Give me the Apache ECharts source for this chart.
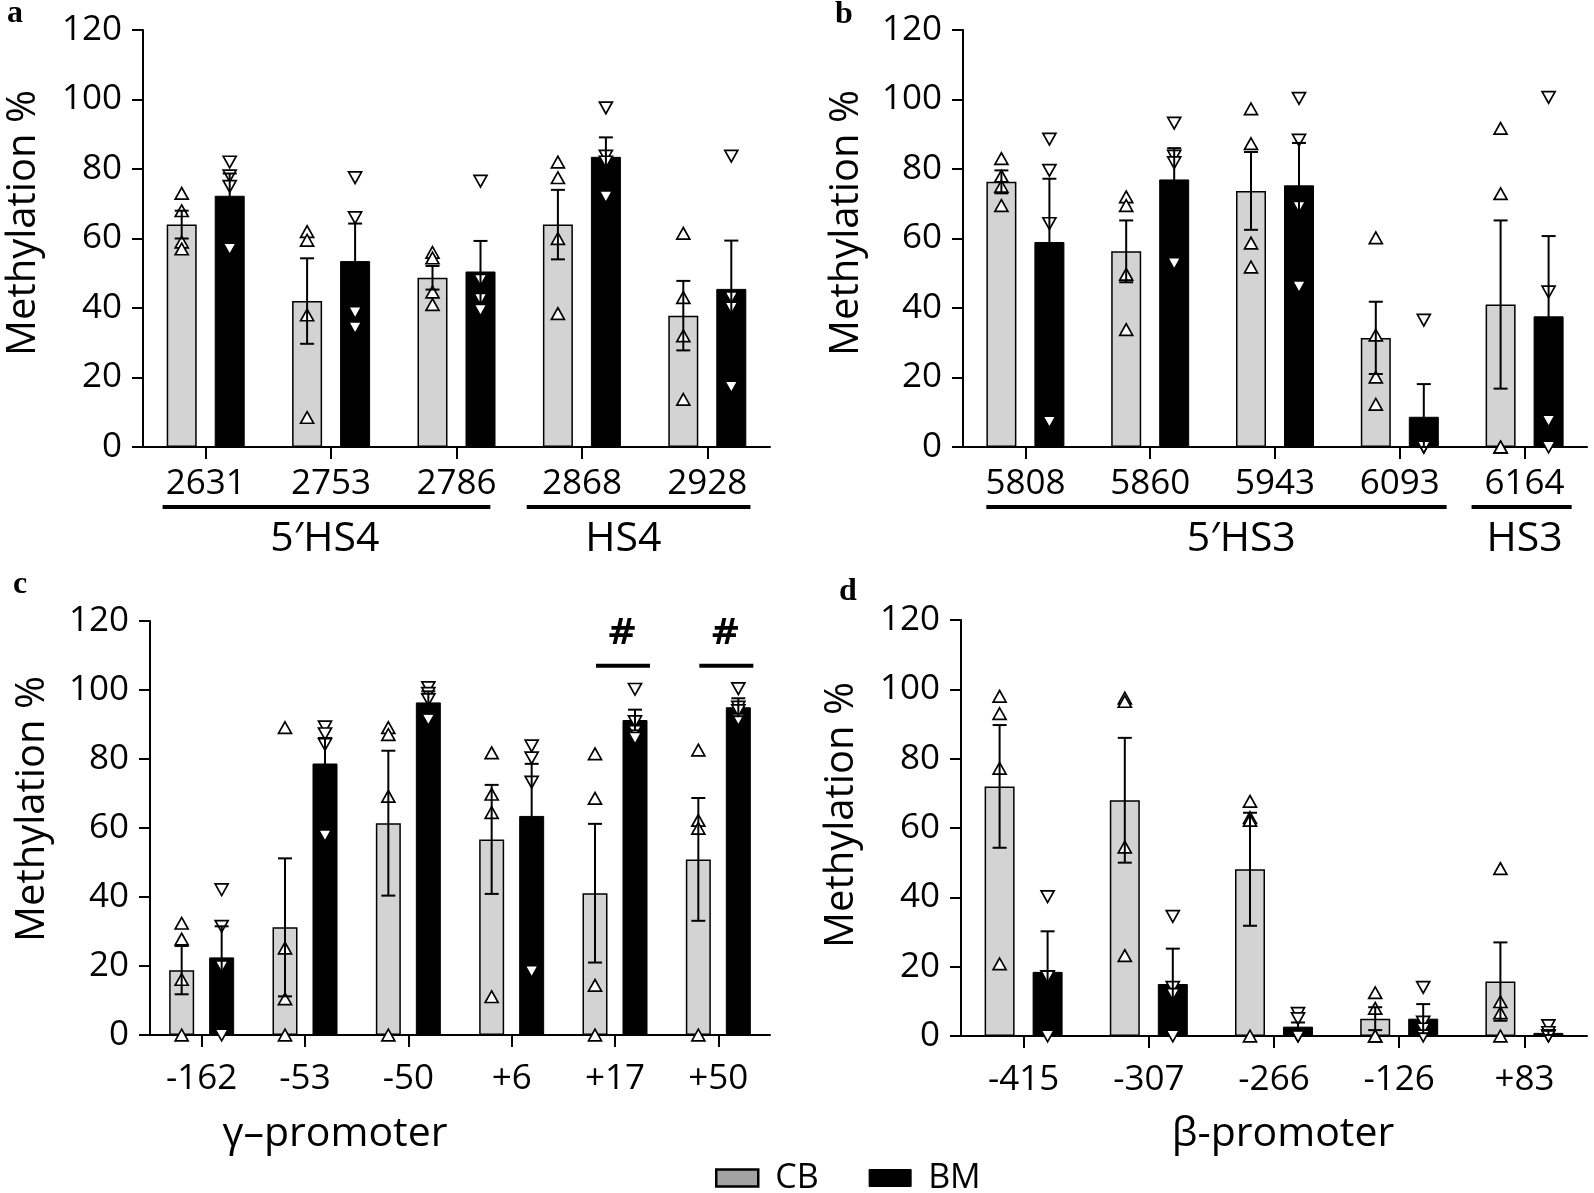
<!DOCTYPE html>
<html><head><meta charset="utf-8">
<script src="https://cdn.jsdelivr.net/npm/echarts@6/dist/echarts.min.js"></script>
<style>html,body{margin:0;padding:0;background:#fff}#c{width:1594px;height:1193px}</style>
</head><body><div id="c"></div>
<script>
// ---------- data ----------
const yTicks = [0, 20, 40, 60, 80, 100, 120];

const catsA = ['2631', '2753', '2786', '2868', '2928'];
const cbA = [64, 42, 48.7, 64, 37.8];
const bmA = [72.3, 53.5, 50.5, 83.5, 45.5];
const cbErrA = [4, 12.3, 3.4, 10, 10];
const bmErrA = [6.4, 10.8, 8.8, 5.6, 13.9];
const cbPtsA = [[73, 68, 59, 57], [62, 59.5, 38, 8.5], [56, 54.4, 44.6, 41], [82, 77.5, 60, 38.4], [61.5, 43, 32, 13.7]];
const bmPtsA = [[82, 78, 75, 57], [77.5, 66, 38.7, 34.3], [76.5, 48, 42.5, 39.4], [97.6, 83.7, 82, 72], [83.7, 43, 40, 17.3]];
const groupNamesA = ['5\u2032HS4', 'HS4'];
const groupSpanA = [[-0.344, 2.27, 0.95], [2.56, 4.344, 3.33]]; // [from, to, label] in category units

const catsB = ['5808', '5860', '5943', '6093', '6164'];
const cbB = [76.3, 56.3, 73.7, 31.4, 41];
const bmB = [59, 77, 75.3, 8.7, 37.6];
const cbErrB = [3.3, 8.9, 11.2, 10.4, 24.2];
const bmErrB = [18.2, 9, 12.2, 9.4, 23.1];
const cbPtsB = [[83, 78, 75, 69.5], [72, 69.5, 49.7, 33.8], [97.3, 87.3, 58.7, 51.8], [60.2, 32.2, 20.1, 12.3], [91.7, 72.9, 0, 0]];
const bmPtsB = [[88.6, 79.6, 64.3, 7.2], [93.2, 83.7, 81.8, 52.8], [100.3, 88.3, 69, 46.1], [36.5, 0, 0, 0], [100.6, 44.6, 7.5, 0]];
const groupNamesB = ['5\u2032HS3', 'HS3'];
const groupSpanB = [[-0.313, 3.375, 1.73], [3.575, 4.377, 4.0]];

const catsC = ['-162', '-53', '-50', '+6', '+17', '+50'];
const cbC = [18.8, 31.2, 61.4, 56.7, 41.1, 50.9];
const bmC = [22.5, 78.7, 96.4, 63.5, 91.3, 95];
const cbErrC = [7, 20, 21, 15.8, 20.1, 17.8];
const bmErrC = [9, 7.4, 3.2, 15.1, 3, 2.6];
const cbPtsC = [[32.4, 27.8, 16.1, 0], [89.1, 25.2, 10.5, 0], [89.1, 87.1, 69.2, 0], [81.8, 69.8, 64.5, 11.1], [81.5, 68.6, 14.4, 0], [82.6, 62.2, 59.9, 0]];
const bmPtsC = [[42.1, 31.5, 19.8, 0], [89.3, 87.3, 84.2, 57.8], [100.7, 99, 97.2, 91.4], [83.8, 80.3, 73.3, 18.4], [100.2, 90.8, 88, 86], [100.4, 95, 94, 91.4]];
const sigC = [[4, 107], [5, 107]];

const catsD = ['-415', '-307', '-266', '-126', '+83'];
const cbD = [72, 68, 48.1, 5, 15.7];
const bmD = [18.5, 15, 2.7, 5, 0.9];
const cbErrD = [17.7, 18, 16.3, 3.3, 11.3];
const bmErrD = [11.7, 10.2, 1.2, 4.2, 0.6];
const cbPtsD = [[98, 93, 77.2, 20.8], [97.5, 96.5, 54.5, 23.2], [67.7, 63, 62.2, 0], [12.5, 8, 0, 0], [48.3, 9.9, 6.7, 0]];
const bmPtsD = [[40.2, 17.1, 17, 0], [34.5, 14, 12, 0], [6.5, 5, 0, 0], [14, 4, 2, 0], [3, 1, 0, 0]];

// ---------- layout ----------
const FONT = '"Open Sans", "Noto Sans", sans-serif';
const panels = [
  { cats: catsA, cb: cbA, bm: bmA, cbErr: cbErrA, bmErr: bmErrA, cbPts: cbPtsA, bmPts: bmPtsA,
    grid: { left: 143, top: 30, width: 627, height: 417 }, barW: 30, off: 24, labelMargin: 20,
    groups: groupSpanA, groupNames: groupNamesA },
  { cats: catsB, cb: cbB, bm: bmB, cbErr: cbErrB, bmErr: bmErrB, cbPts: cbPtsB, bmPts: bmPtsB,
    grid: { left: 963, top: 30, width: 624, height: 417 }, barW: 30, off: 24, labelMargin: 20,
    groups: groupSpanB, groupNames: groupNamesB },
  { cats: catsC, cb: cbC, bm: bmC, cbErr: cbErrC, bmErr: bmErrC, cbPts: cbPtsC, bmPts: bmPtsC,
    grid: { left: 150, top: 621, width: 620, height: 414 }, barW: 25, off: 20, labelMargin: 27,
    sig: sigC },
  { cats: catsD, cb: cbD, bm: bmD, cbErr: cbErrD, bmErr: bmErrD, cbPts: cbPtsD, bmPts: bmPtsD,
    grid: { left: 961, top: 620, width: 626, height: 416 }, barW: 30, off: 24, labelMargin: 27 }
];

function errRender(off) {
  return function (params, api) {
    const i = api.value(0), m = api.value(1), e = api.value(2);
    const p0 = api.coord([i, m + e]);
    const p1 = api.coord([i, Math.max(0, m - e)]);
    const x = p0[0] + off, cw = 7;
    const st = { stroke: '#000', lineWidth: 2 };
    return { type: 'group', children: [
      { type: 'line', shape: { x1: x, y1: p0[1], x2: x, y2: p1[1] }, style: st },
      { type: 'line', shape: { x1: x - cw, y1: p0[1], x2: x + cw, y2: p0[1] }, style: st },
      { type: 'line', shape: { x1: x - cw, y1: p1[1], x2: x + cw, y2: p1[1] }, style: st }
    ] };
  };
}
function ptRender(off, up) {
  return function (params, api) {
    const p = api.coord([api.value(0), api.value(1)]);
    const x = p[0] + off, y = p[1], w = 6.5, h = 5.8;
    const pts = up ? [[x, y - h], [x + w, y + h], [x - w, y + h]]
                   : [[x - w, y - h], [x + w, y - h], [x, y + h]];
    return { type: 'polygon', shape: { points: pts }, style: { fill: '#fff', stroke: '#000', lineWidth: 1.7 } };
  };
}
function fracX(api, v, n) {
  const bw = api.size([1, 0])[0];
  const i = Math.min(n - 1, Math.max(0, Math.round(v)));
  return api.coord([i, 0])[0] + (v - i) * bw;
}
function grpRender(names, n) {
  return function (params, api) {
    const a = api.value(0), b = api.value(1), l = api.value(2);
    const y = api.coord([0, 0])[1];
    return { type: 'group', children: [
      { type: 'line', shape: { x1: fracX(api, a, n), y1: y + 60, x2: fracX(api, b, n), y2: y + 60 },
        style: { stroke: '#000', lineWidth: 4 } },
      { type: 'text', x: fracX(api, l, n), y: y + 92,
        style: { text: names[params.dataIndex], fontSize: 41, fontFamily: FONT, textAlign: 'center', textVerticalAlign: 'middle', fill: '#000' } }
    ] };
  };
}
function sigRender(off) {
  return function (params, api) {
    const p = api.coord([api.value(0), api.value(1)]);
    const x = p[0] + off, y = p[1];
    return { type: 'group', children: [
      { type: 'line', shape: { x1: x - 27, y1: y, x2: x + 27, y2: y }, style: { stroke: '#000', lineWidth: 4 } },
      { type: 'text', x: x - 1, y: y - 31,
        style: { text: '#', fontSize: 36, fontWeight: 'bold', fontFamily: '"DejaVu Serif", "Liberation Serif", serif', textAlign: 'center', textVerticalAlign: 'middle', fill: '#000' } }
    ] };
  };
}

const grids = [], xAxes = [], yAxes = [], series = [];
panels.forEach((p, k) => {
  grids.push(Object.assign({ containLabel: false, outerBoundsMode: 'none' }, p.grid));
  xAxes.push({
    type: 'category', gridIndex: k, data: p.cats,
    axisLine: { show: true, lineStyle: { color: '#000', width: 2 } },
    axisTick: { show: true, alignWithLabel: true, length: 12, lineStyle: { color: '#000', width: 2 } },
    axisLabel: { color: '#000', fontSize: 35, fontFamily: FONT, margin: p.labelMargin, interval: 0 },
    splitLine: { show: false }
  });
  yAxes.push({
    type: 'value', gridIndex: k, min: yTicks[0], max: yTicks[yTicks.length - 1], interval: yTicks[1] - yTicks[0],
    axisLine: { show: true, lineStyle: { color: '#000', width: 2 } },
    axisTick: { show: true, length: 11, lineStyle: { color: '#000', width: 2 } },
    axisLabel: { color: '#000', fontSize: 35, fontFamily: FONT, margin: 21 },
    splitLine: { show: false }
  });
  const gap = Math.round((2 * p.off - p.barW) / p.barW * 100) + '%';
  series.push({ name: 'CB', type: 'bar', xAxisIndex: k, yAxisIndex: k, data: p.cb, barWidth: p.barW, barGap: gap, z: 2,
    itemStyle: { color: '#d3d3d3', borderColor: '#000', borderWidth: 1.5 }, emphasis: { disabled: true } });
  series.push({ name: 'BM', type: 'bar', xAxisIndex: k, yAxisIndex: k, data: p.bm, barWidth: p.barW, barGap: gap, z: 2,
    itemStyle: { color: '#000', borderColor: '#000', borderWidth: 1 }, emphasis: { disabled: true } });
  const cbPts = [], bmPts = [];
  p.cbPts.forEach((arr, i) => arr.forEach(v => cbPts.push([i, v])));
  p.bmPts.forEach((arr, i) => arr.forEach(v => bmPts.push([i, v])));
  series.push({ name: 'cbPts', type: 'custom', xAxisIndex: k, yAxisIndex: k, z: 3, clip: false,
    renderItem: ptRender(-p.off, true), encode: { x: 0, y: 1 }, data: cbPts });
  series.push({ name: 'bmPts', type: 'custom', xAxisIndex: k, yAxisIndex: k, z: 3, clip: false,
    renderItem: ptRender(p.off, false), encode: { x: 0, y: 1 }, data: bmPts });
  series.push({ name: 'cbErr', type: 'custom', xAxisIndex: k, yAxisIndex: k, z: 4, clip: false,
    renderItem: errRender(-p.off), encode: { x: 0, y: 1 }, data: p.cb.map((m, i) => [i, m, p.cbErr[i]]) });
  series.push({ name: 'bmErr', type: 'custom', xAxisIndex: k, yAxisIndex: k, z: 4, clip: false,
    renderItem: errRender(p.off), encode: { x: 0, y: 1 }, data: p.bm.map((m, i) => [i, m, p.bmErr[i]]) });
  if (p.groups) {
    series.push({ name: 'groups', type: 'custom', xAxisIndex: k, yAxisIndex: k, z: 5, clip: false,
      renderItem: grpRender(p.groupNames, p.cats.length), encode: { x: 0 }, silent: true, data: p.groups });
  }
  if (p.sig) {
    series.push({ name: 'sig', type: 'custom', xAxisIndex: k, yAxisIndex: k, z: 5, clip: false,
      renderItem: sigRender(8), encode: { x: 0, y: 1 }, silent: true, data: p.sig });
  }
});

function txt(x, y, text, size, rot, bold, family) {
  return { type: 'text', x: x, y: y, rotation: rot || 0,
    style: { text: text, fontSize: size, fontWeight: bold ? 'bold' : 'normal', fontFamily: family || FONT,
      textAlign: 'center', textVerticalAlign: 'middle', fill: '#000' } };
}
const SERIF = '"Liberation Serif", serif';
const graphics = [
  txt(24, 223, 'Methylation %', 40, Math.PI / 2),
  txt(847, 223, 'Methylation %', 40, Math.PI / 2),
  txt(33, 809, 'Methylation %', 40, Math.PI / 2),
  txt(842, 815, 'Methylation %', 40, Math.PI / 2),
  txt(335, 1134, '\u03b3\u2013promoter', 41),
  txt(1283, 1134, '\u03b2-promoter', 41),
  txt(15, 14, 'a', 32, 0, true, SERIF),
  txt(844, 15, 'b', 32, 0, true, SERIF),
  txt(20, 585, 'c', 32, 0, true, SERIF),
  txt(848, 592, 'd', 32, 0, true, SERIF)
];

const chart = echarts.init(document.getElementById('c'), null, { renderer: 'canvas' });
chart.setOption({
  animation: false,
  backgroundColor: '#fff',
  grid: grids, xAxis: xAxes, yAxis: yAxes, series: series,
  legend: {
    left: 715, top: 1160, itemWidth: 42, itemHeight: 17, itemGap: 50, padding: 0,
    selectedMode: false,
    textStyle: { fontSize: 34, lineHeight: 36, fontFamily: FONT, color: '#000', padding: [0, 0, 0, 12] },
    data: [
      { name: 'CB', icon: 'rect', itemStyle: { color: '#a3a3a3', borderColor: '#000', borderWidth: 2.5 } },
      { name: 'BM', icon: 'rect', itemStyle: { color: '#000', borderColor: '#000', borderWidth: 1 } }
    ]
  },
  graphic: graphics
});
</script>
</body></html>
